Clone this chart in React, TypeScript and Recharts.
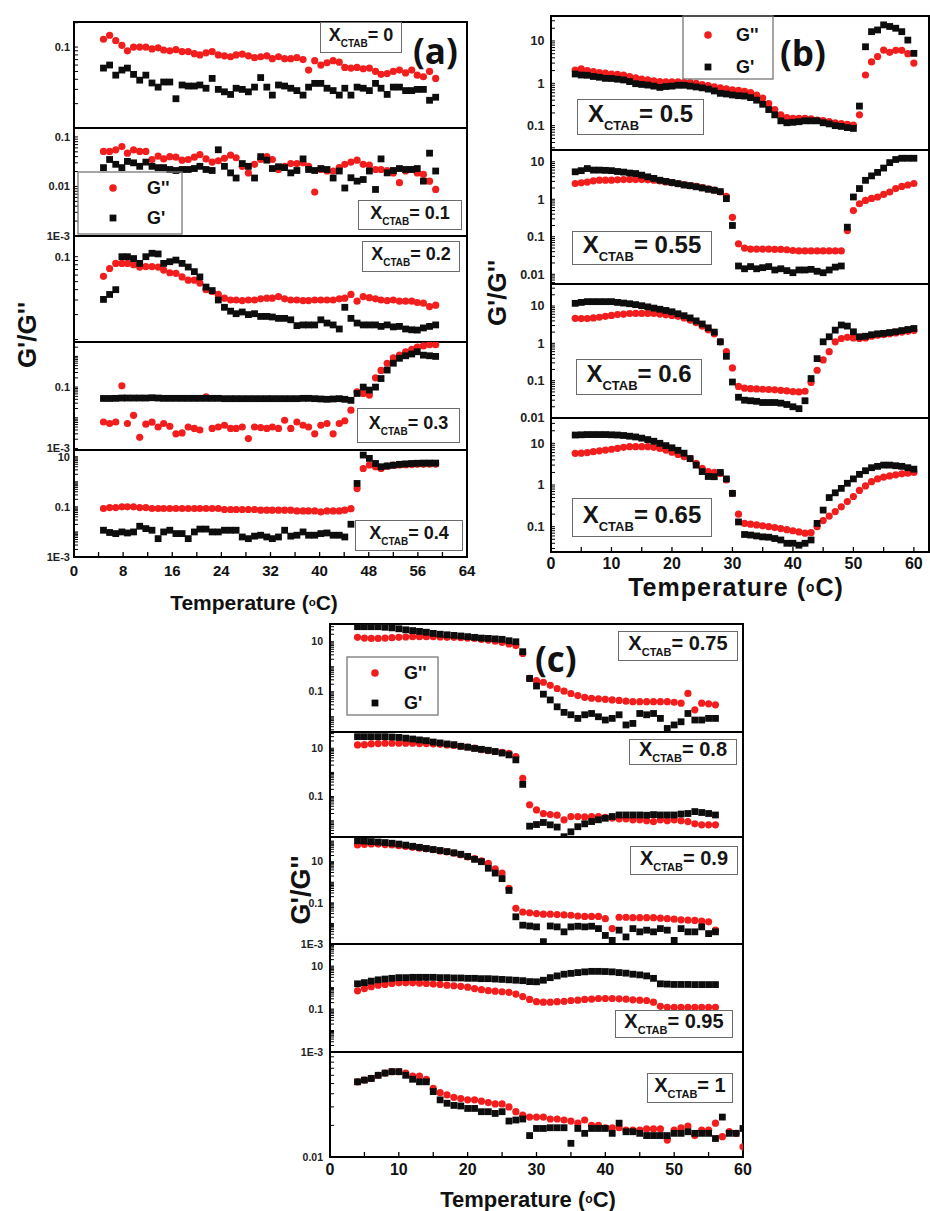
import React from 'react';
import { ScatterChart, Scatter, XAxis, YAxis, ReferenceArea } from 'recharts';

const FONT = '"Liberation Sans", Arial, Helvetica, sans-serif';
const RED = '#f21d1d';
const BLACK = '#0d0d0d';

// ---------- temperatures (°C) at which points were read ----------
const tempA = [4.8,5.8,6.8,7.8,8.7,9.7,10.7,11.7,12.7,13.7,14.6,15.6,16.6,17.6,18.6,19.6,20.5,21.5,22.5,23.5,24.5,25.5,26.4,27.4,28.4,29.4,30.4,31.4,32.3,33.3,34.3,35.3,36.3,37.3,38.2,39.2,40.2,41.2,42.2,43.2,44.1,45.1,46.1,47.1,48.1,49.1,50.0,51.0,52.0,53.0,54.0,55.0,55.9,56.9,57.9,58.9];
const tempB = [4,5,6,7,8,9,10,11,12,13,14,15,16,17,18,19,20,21,22,23,24,25,26,27,28,29,30,31,32,33,34,35,36,37,38,39,40,41,42,43,44,45,46,47,48,49,50,51,52,53,54,55,56,57,58,59,60];
const tempC = [4,5,6,7,8,9,10,11,12,13,14,15,16,17,18,19,20,21,22,23,24,25,26,27,28,29,30,31,32,33,34,35,36,37,38,39,40,41,42,43,44,45,46,47,48,49,50,51,52,53,54,55,56,57,58,59,60];

// ---------- (a) ----------
const lossX0 = [0.125,0.14,0.12,0.105,0.09,0.1,0.1,0.1,0.095,0.098,0.092,0.09,0.093,0.088,0.088,0.083,0.08,0.085,0.088,0.08,0.078,0.076,0.08,0.082,0.078,0.074,0.076,0.078,0.072,0.076,0.072,0.072,0.074,0.07,0.052,0.068,0.06,0.064,0.068,0.065,0.056,0.055,0.056,0.054,0.055,0.05,0.046,0.047,0.05,0.052,0.048,0.052,0.045,0.043,0.05,0.041];
const storX0 = [0.055,0.06,0.045,0.052,0.055,0.046,0.039,0.045,0.036,0.032,0.037,0.037,0.023,0.034,0.033,0.033,0.034,0.031,0.041,0.03,0.028,0.026,0.031,0.03,0.028,0.032,0.042,0.032,0.0255,0.034,0.033,0.031,0.029,0.0255,0.032,0.0356,0.0356,0.031,0.029,0.0255,0.031,0.0255,0.032,0.031,0.029,0.0356,0.031,0.026,0.032,0.032,0.029,0.029,0.03,0.03,0.022,0.024];
const lossX01 = [0.051,0.051,0.055,0.064,0.047,0.055,0.051,0.051,0.035,0.041,0.036,0.04,0.039,0.034,0.035,0.039,0.044,0.036,0.031,0.033,0.037,0.043,0.038,0.0255,0.0188,0.028,0.035,0.04,0.035,0.022,0.0255,0.029,0.029,0.03,0.0255,0.0077,0.022,0.0205,0.0205,0.024,0.028,0.031,0.034,0.028,0.027,0.022,0.022,0.021,0.0188,0.0119,0.0205,0.022,0.0188,0.0175,0.0128,0.0087];
const storX01 = [0.024,0.035,0.028,0.024,0.032,0.03,0.0255,0.031,0.0255,0.024,0.024,0.022,0.021,0.022,0.022,0.023,0.0255,0.022,0.021,0.055,0.0255,0.0188,0.0148,0.029,0.0255,0.0148,0.04,0.034,0.023,0.025,0.024,0.0188,0.021,0.036,0.022,0.021,0.023,0.022,0.0148,0.0205,0.0093,0.015,0.0128,0.0138,0.0205,0.0087,0.036,0.0188,0.021,0.023,0.022,0.022,0.023,0.0128,0.047,0.0205];
const lossX02 = [0.058,0.072,0.083,0.083,0.083,0.08,0.075,0.076,0.076,0.075,0.069,0.064,0.063,0.057,0.052,0.052,0.048,0.04,0.038,0.035,0.0316,0.03,0.03,0.0295,0.03,0.03,0.031,0.0316,0.0316,0.033,0.031,0.03,0.03,0.0295,0.0295,0.03,0.03,0.03,0.03,0.031,0.0316,0.035,0.029,0.033,0.032,0.031,0.03,0.0295,0.03,0.029,0.029,0.029,0.028,0.0275,0.025,0.026];
const storX02 = [0.0305,0.035,0.04,0.1,0.1,0.095,0.083,0.1,0.11,0.108,0.083,0.087,0.091,0.083,0.075,0.066,0.057,0.043,0.039,0.03,0.0245,0.022,0.0205,0.0215,0.02,0.0205,0.019,0.019,0.0187,0.018,0.018,0.0173,0.0147,0.015,0.015,0.015,0.0173,0.0158,0.015,0.0134,0.0245,0.018,0.0158,0.015,0.015,0.015,0.0144,0.015,0.0142,0.0144,0.0134,0.0131,0.013,0.0138,0.0144,0.015];
const lossX03 = [0.0073,0.0065,0.0073,0.11,0.0065,0.012,0.0023,0.0062,0.0072,0.005,0.0065,0.0053,0.003,0.0032,0.005,0.0045,0.004,0.048,0.0045,0.005,0.0057,0.0045,0.0045,0.005,0.0021,0.005,0.0048,0.0045,0.005,0.0045,0.0083,0.0045,0.0073,0.0057,0.005,0.003,0.0057,0.0065,0.003,0.0065,0.008,0.0177,0.07,0.062,0.055,0.2,0.35,0.6,0.9,1.1,1.4,1.7,2.0,2.2,2.4,2.4];
const storX03 = [0.0426,0.0426,0.043,0.044,0.044,0.044,0.044,0.044,0.045,0.044,0.043,0.043,0.043,0.043,0.043,0.043,0.043,0.043,0.043,0.043,0.042,0.042,0.042,0.042,0.042,0.042,0.042,0.042,0.042,0.042,0.042,0.042,0.042,0.043,0.043,0.042,0.041,0.04,0.041,0.042,0.04,0.037,0.062,0.1,0.08,0.1,0.19,0.36,0.6,0.87,1.05,1.2,1.42,1.1,1.05,1.0];
const lossX04 = [0.086,0.094,0.094,0.1,0.1,0.1,0.094,0.094,0.086,0.086,0.086,0.086,0.086,0.086,0.086,0.086,0.086,0.086,0.086,0.086,0.0785,0.0785,0.0785,0.0785,0.0785,0.0785,0.074,0.074,0.074,0.074,0.074,0.074,0.069,0.069,0.069,0.069,0.063,0.069,0.069,0.069,0.074,0.085,0.54,3.4,4.7,4.0,3.4,4.2,4.6,4.7,4.8,4.9,5.0,5.0,5.1,5.1];
const storX04 = [0.0117,0.0095,0.0086,0.01,0.0091,0.01,0.0169,0.0136,0.0117,0.0054,0.01,0.0117,0.0086,0.0086,0.0054,0.01,0.013,0.013,0.01,0.01,0.0117,0.0117,0.0117,0.0063,0.0054,0.0068,0.0074,0.0063,0.0054,0.0063,0.0117,0.0068,0.0074,0.01,0.0074,0.0074,0.0086,0.0091,0.0074,0.0074,0.0063,0.0203,0.86,11.7,8.6,5.4,4.0,4.3,4.6,5.0,5.2,5.4,5.5,5.6,5.6,5.6];

// ---------- (b) ----------
const lossX05 = [2.06,2.2,2.0,1.88,1.8,1.75,1.66,1.62,1.57,1.45,1.35,1.25,1.2,1.15,1.1,1.09,1.09,1.08,1.06,1.04,1.0,0.93,0.88,0.83,0.78,0.74,0.7,0.68,0.65,0.6,0.53,0.45,0.33,0.24,0.18,0.155,0.149,0.149,0.149,0.145,0.136,0.132,0.125,0.117,0.112,0.107,0.103,0.18,1.57,3.2,4.3,6.1,5.4,6.0,6.0,5.0,3.0];
const storX05 = [1.66,1.57,1.55,1.45,1.39,1.31,1.3,1.25,1.2,1.1,0.98,0.94,0.91,0.86,0.8,0.84,0.86,0.9,0.9,0.86,0.82,0.78,0.73,0.66,0.58,0.56,0.53,0.51,0.5,0.46,0.4,0.32,0.24,0.18,0.13,0.117,0.12,0.124,0.13,0.13,0.13,0.117,0.11,0.1,0.096,0.09,0.086,0.29,7.3,16.6,18.2,24,22,20,16.6,10.5,5.1];
const lossX055 = [2.63,2.75,2.88,3.1,3.22,3.22,3.22,3.3,3.36,3.36,3.36,3.36,3.3,3.22,3.1,2.9,2.75,2.6,2.45,2.3,2.2,2.05,1.9,1.75,1.56,1.2,0.33,0.065,0.05,0.047,0.047,0.047,0.047,0.046,0.046,0.045,0.043,0.042,0.042,0.042,0.042,0.042,0.042,0.042,0.042,0.146,0.5,0.76,0.93,1.05,1.15,1.35,1.56,1.93,2.2,2.4,2.63];
const storX055 = [5.4,5.8,6.6,6.0,6.0,5.9,5.8,5.5,5.3,5.0,4.85,4.4,3.96,3.6,3.22,3.0,2.8,2.6,2.4,2.3,2.15,2.0,1.85,1.74,1.6,1.04,0.2,0.0166,0.014,0.016,0.014,0.015,0.016,0.013,0.014,0.0125,0.011,0.013,0.013,0.0135,0.012,0.011,0.013,0.0155,0.0166,0.18,1.15,1.93,3.2,4.2,5.2,6.8,9.5,11.5,12.4,12.4,12.4];
const lossX06 = [4.67,4.6,4.6,4.8,5.0,5.3,5.6,5.9,6.1,6.3,6.35,6.35,6.35,6.3,6.1,5.8,5.6,5.3,4.8,4.2,3.6,2.9,2.3,1.8,1.1,0.6,0.22,0.07,0.063,0.061,0.06,0.059,0.058,0.057,0.055,0.053,0.051,0.05,0.052,0.09,0.19,0.36,0.6,1.1,1.35,1.45,1.4,1.35,1.4,1.55,1.66,1.72,1.8,1.9,2.0,2.1,2.2];
const storX06 = [11.8,12.5,13.1,13.1,13.1,13.1,13.1,12.5,12.0,11.5,10.9,10.2,9.5,8.8,8.2,7.6,7.0,6.2,5.5,4.8,4.0,3.3,2.6,2.0,1.1,0.45,0.092,0.036,0.03,0.029,0.028,0.026,0.026,0.026,0.025,0.023,0.02,0.0178,0.029,0.114,0.39,1.1,1.5,2.26,3.1,2.9,2.04,1.5,1.55,1.7,1.8,1.85,1.95,2.05,2.2,2.35,2.5];
const lossX065 = [5.75,5.8,6.0,6.3,6.6,6.9,7.2,7.6,8.0,8.3,8.3,8.3,8.3,8.0,7.5,6.9,6.1,5.4,4.8,4.3,3.3,2.5,2.1,2.0,1.9,1.32,0.63,0.2,0.12,0.115,0.11,0.105,0.1,0.095,0.09,0.085,0.08,0.075,0.07,0.072,0.1,0.14,0.18,0.23,0.3,0.4,0.53,0.74,0.95,1.2,1.4,1.55,1.65,1.75,1.85,1.92,2.0];
const storX065 = [15.8,16,16.2,16.2,16.2,16.2,16,15.8,15.4,14.8,14.2,13.3,12.3,11.2,10,8.8,7.8,6.8,5.8,4.3,3.0,2.1,1.6,1.58,2.0,1.4,0.63,0.13,0.065,0.063,0.06,0.057,0.056,0.052,0.048,0.04,0.04,0.036,0.04,0.048,0.12,0.25,0.5,0.65,0.83,1.1,1.4,1.8,2.2,2.6,2.8,3.0,3.0,2.9,2.8,2.6,2.4];

// ---------- (c) ----------
const lossX075 = [15,14,13.6,13.6,14,14.5,15,15.5,15.9,15.9,15.9,15.9,15.5,15,15,14.5,14,13.6,12.5,11.7,10.5,9.5,8.2,7,3.4,0.34,0.28,0.24,0.18,0.135,0.105,0.085,0.07,0.06,0.055,0.052,0.05,0.047,0.045,0.042,0.04,0.04,0.04,0.04,0.04,0.04,0.038,0.035,0.086,0.019,0.035,0.033,0.03];
const storX075 = [40,40,40,40,38,36,33,30,28,26,24,21.6,20,19,18,17,16,15,14,13.6,13,12.5,11,10,4.0,0.34,0.17,0.08,0.047,0.025,0.015,0.012,0.0086,0.012,0.0135,0.01,0.0074,0.0086,0.012,0.0047,0.0054,0.0135,0.012,0.0135,0.0086,0.0034,0.0047,0.0063,0.0135,0.0074,0.0074,0.0086,0.0086];
const lossX08 = [13.7,14,15,15.5,16,16,16,16,16,15.5,15.5,15,14.5,13.7,13,12,11.2,10,8.8,8,7.3,6.8,6.2,4.5,0.57,0.046,0.028,0.02,0.018,0.017,0.011,0.015,0.015,0.0145,0.015,0.015,0.014,0.013,0.012,0.012,0.011,0.011,0.01,0.0093,0.011,0.01,0.011,0.01,0.0093,0.0075,0.0068,0.0068,0.0068];
const storX08 = [30,30,30,30,30,29,28,26,24,22,20.5,18,16.5,15,14,12,11,9.8,9.0,8.2,7.3,6.3,5.3,3.3,0.32,0.006,0.007,0.0085,0.0068,0.0055,0.0022,0.0035,0.0057,0.0075,0.0093,0.011,0.0127,0.015,0.0174,0.0174,0.0174,0.0174,0.017,0.018,0.0174,0.0174,0.0174,0.019,0.02,0.024,0.022,0.02,0.0174];
const lossX09 = [65,70,73,72,68,65,60,55,50,45,42,38,33,30,26,22,17,14,11,8.3,4.5,2.8,0.5,0.054,0.036,0.033,0.03,0.028,0.028,0.027,0.026,0.025,0.023,0.022,0.022,0.022,0.017,0.0056,0.02,0.02,0.019,0.019,0.019,0.019,0.018,0.017,0.016,0.015,0.0144,0.014,0.013,0.012,0.0047];
const storX09 = [105,100,95,90,85,79,72,64,56,50,44,39,35,31,27,23,18,13,10,4.8,2.8,1.5,0.4,0.021,0.0082,0.0075,0.0068,0.0013,0.0075,0.0068,0.0039,0.0068,0.0073,0.0068,0.0073,0.0056,0.0026,0.0015,0.0047,0.0022,0.0056,0.0039,0.0047,0.0039,0.0056,0.0047,0.0015,0.0056,0.0039,0.0039,0.0068,0.0032,0.0039];
const lossX095 = [0.71,0.9,1.1,1.3,1.4,1.55,1.66,1.66,1.66,1.6,1.55,1.45,1.4,1.3,1.22,1.15,1.05,0.9,0.8,0.72,0.68,0.64,0.6,0.5,0.38,0.28,0.22,0.21,0.21,0.22,0.23,0.25,0.26,0.28,0.29,0.31,0.31,0.31,0.3,0.29,0.27,0.26,0.25,0.21,0.134,0.12,0.12,0.12,0.12,0.12,0.12,0.12,0.12];
const storX095 = [1.5,1.7,2.0,2.3,2.5,2.7,2.9,2.9,3.0,3.0,3.0,3.0,2.9,2.9,2.8,2.8,2.7,2.7,2.6,2.6,2.5,2.4,2.3,2.2,2.1,1.9,1.86,2.2,2.9,3.5,4.2,4.6,5.0,5.4,5.7,5.7,5.6,5.4,5.0,4.7,4.2,3.9,3.5,2.7,1.5,1.45,1.4,1.4,1.4,1.38,1.38,1.38,1.38];
const lossX1 = [0.052,0.054,0.056,0.06,0.063,0.065,0.065,0.063,0.059,0.059,0.055,0.045,0.041,0.039,0.037,0.036,0.035,0.035,0.034,0.033,0.032,0.032,0.03,0.027,0.025,0.024,0.024,0.024,0.023,0.023,0.0225,0.022,0.021,0.0225,0.02,0.02,0.019,0.019,0.019,0.018,0.018,0.018,0.0185,0.0185,0.0185,0.0145,0.018,0.019,0.0197,0.016,0.018,0.018,0.021,0.0156,0.0175,0.0168,0.0125];
const storX1 = [0.052,0.054,0.056,0.06,0.063,0.065,0.065,0.06,0.055,0.052,0.052,0.042,0.035,0.0325,0.031,0.0306,0.029,0.029,0.027,0.027,0.026,0.027,0.022,0.0225,0.023,0.016,0.0187,0.0187,0.019,0.019,0.019,0.0135,0.0187,0.0168,0.0187,0.0187,0.0187,0.0168,0.021,0.0174,0.0174,0.0168,0.016,0.016,0.016,0.016,0.0168,0.0168,0.0174,0.0168,0.0168,0.0168,0.015,0.024,0.0168,0.0168,0.0187];

// ---------- tick labels ----------
const xLabelsA = [0, 8, 16, 24, 32, 40, 48, 56, 64];
const xMinorA = [4, 12, 20, 28, 36, 44, 52, 60];
const xLabelsBC = [0, 10, 20, 30, 40, 50, 60];
const xMinorBC = [5, 15, 25, 35, 45, 55];
const xctab = ['0', '0.1', '0.2', '0.3', '0.4', '0.5', '0.55', '0.6', '0.65', '0.75', '0.8', '0.9', '0.95', '1'];

const fmtY = (v: number) => (Math.abs(v - 0.001) < 1e-12 ? '1E-3' : String(v));

function logTicks(e0: number, e1: number) {
  const out: number[] = [];
  for (let d = Math.floor(e0); d <= Math.ceil(e1); d++) {
    for (let m = 1; m <= 9; m++) {
      const v = m * Math.pow(10, d);
      const lv = Math.log10(v);
      if (lv >= e0 - 1e-9 && lv <= e1 + 1e-9) out.push(v);
    }
  }
  return out;
}

const Dot = (p: any) => (p.cx == null ? <g /> : <circle cx={p.cx} cy={p.cy} r={3.6} fill={RED} />);
const Sq = (p: any) => (p.cx == null ? <g /> : <rect x={p.cx - 3.4} y={p.cy - 3.4} width={6.8} height={6.8} fill={BLACK} />);

type Cfg = {
  L: number; T: number; W: number; H: number; xMax: number;
  e: [number, number]; yLabels: number[]; temps: number[];
  loss: number[]; stor: number[]; showX?: boolean;
  xLabels: number[]; xMinor: number[]; yFs: number; yM: number; xFs: number; xM: number;
};

const A = { L: 74, W: 393, xMax: 64, xLabels: xLabelsA, xMinor: xMinorA, yFs: 11, yM: 8, xFs: 15, xM: 13, temps: tempA };
const B = { L: 551, W: 378, xMax: 62.5, xLabels: xLabelsBC, xMinor: xMinorBC, yFs: 12.5, yM: 10.5, xFs: 16, xM: 11, temps: tempB };
const C = { L: 330, W: 413, xMax: 60, xLabels: xLabelsBC, xMinor: xMinorBC, yFs: 10.5, yM: 11, xFs: 16, xM: 12, temps: tempC };

const panels: Cfg[] = [
  { ...A, T: 22, H: 106, e: [-2, -0.69], yLabels: [0.1], loss: lossX0, stor: storX0 },
  { ...A, T: 128, H: 108, e: [-3, -0.82], yLabels: [0.1, 0.01, 0.001], loss: lossX01, stor: storX01 },
  { ...A, T: 236, H: 106, e: [-2.03, -0.75], yLabels: [0.1], loss: lossX02, stor: storX02 },
  { ...A, T: 342, H: 108, e: [-3.05, 0.47], yLabels: [0.1, 0.001], loss: lossX03, stor: storX03 },
  { ...A, T: 450, H: 107, e: [-3, 1.27], yLabels: [10, 0.1, 0.001], loss: lossX04, stor: storX04, showX: true },
  { ...B, T: 16, H: 134, e: [-1.575, 1.59], yLabels: [10, 1, 0.1], loss: lossX05, stor: storX05 },
  { ...B, T: 150, H: 134, e: [-2.26, 1.314], yLabels: [10, 1, 0.1, 0.01], loss: lossX055, stor: storX055 },
  { ...B, T: 284, H: 134, e: [-2, 1.59], yLabels: [10, 1, 0.1, 0.01], loss: lossX06, stor: storX06 },
  { ...B, T: 418, H: 134, e: [-1.607, 1.607], yLabels: [10, 1, 0.1], loss: lossX065, stor: storX065, showX: true },
  { ...C, T: 624, H: 108, e: [-2.61, 1.71], yLabels: [10, 0.1], loss: lossX075, stor: storX075 },
  { ...C, T: 732, H: 105, e: [-2.67, 1.67], yLabels: [10, 0.1], loss: lossX08, stor: storX08 },
  { ...C, T: 837, H: 107, e: [-3, 2.2], yLabels: [10, 0.1, 0.001], loss: lossX09, stor: storX09 },
  { ...C, T: 944, H: 108, e: [-3, 2.03], yLabels: [10, 0.1, 0.001], loss: lossX095, stor: storX095 },
  { ...C, T: 1052, H: 105, e: [-2, -1], yLabels: [0.01], loss: lossX1, stor: storX1, showX: true },
];

// label boxes: [x, y, w, h, mainFont, subFont]
const boxes: [number, number, number, number, number, number][] = [
  [320, 22, 82, 31, 18, 10], [358, 200, 104, 30, 18, 10], [362, 241, 98, 31, 18, 10], [357, 408, 103, 35, 18, 10], [355, 520, 108, 31, 18, 10],
  [577, 99, 127, 36, 24, 13], [572, 231, 140, 34, 24, 13], [576, 359, 126, 36, 24, 13], [572, 498, 140, 39, 24, 13],
  [618, 631, 120, 30, 20, 11], [629, 739, 108, 26, 20, 11], [630, 846, 108, 29, 20, 11], [615, 1010, 118, 28, 20, 11], [647, 1073, 86, 30, 20, 11],
];

function Panel({ p }: { p: Cfg }) {
  const padL = 50, mt = 10, mr = 14;
  const mb = p.showX ? 0 : 10;
  const xh = p.showX ? 40 : 0;
  const w = padL + p.W + mr;
  const h = mt + p.H + (p.showX ? xh : mb);
  const lo = Math.pow(10, p.e[0]);
  const hi = Math.pow(10, p.e[1]);
  const yt = logTicks(p.e[0], p.e[1]);
  const xt = [...p.xLabels, ...p.xMinor].sort((a, b) => a - b);
  const lossData = p.temps.map((t, i) => ({ x: t, y: p.loss[i] })).filter((d) => d.y != null);
  const storData = p.temps.map((t, i) => ({ x: t, y: p.stor[i] })).filter((d) => d.y != null);
  const yFmt = (v: number) => {
    const hit = p.yLabels.find((l) => Math.abs(l - v) / l < 1e-6);
    return hit != null ? fmtY(hit) : '';
  };
  const xFmt = (v: number) => (p.xLabels.includes(v) ? String(v) : '');
  return (
    <div style={{ position: 'absolute', left: p.L - padL, top: p.T - mt, width: w, height: h }}>
      <ScatterChart width={w} height={h} margin={{ top: mt, right: mr, bottom: mb, left: 0 }}>
        <XAxis
          type="number" dataKey="x" domain={[0, p.xMax]} allowDataOverflow ticks={xt} interval={0}
          hide={!p.showX} height={xh} tickFormatter={xFmt}
          tick={{ fontSize: p.xFs, fontWeight: 700, fill: '#111', fontFamily: FONT }}
          tickSize={-5} tickMargin={p.xM}
          axisLine={{ stroke: '#000', strokeWidth: 2 }} tickLine={{ stroke: '#000', strokeWidth: 1.3 }}
        />
        <YAxis
          type="number" dataKey="y" scale="log" domain={[lo, hi]} allowDataOverflow ticks={yt} interval={0}
          width={padL} tickFormatter={yFmt}
          tick={{ fontSize: p.yFs, fontWeight: 700, fill: '#222', fontFamily: FONT }}
          tickSize={-4} tickMargin={p.yM}
          axisLine={{ stroke: '#000', strokeWidth: 2 }} tickLine={{ stroke: '#000', strokeWidth: 1 }}
        />
        <ReferenceArea x1={0} x2={p.xMax} y1={lo} y2={hi} fill="none" fillOpacity={0} stroke="#000" strokeWidth={2} ifOverflow="visible" />
        <Scatter data={lossData} shape={Dot} isAnimationActive={false} />
        <Scatter data={storData} shape={Sq} isAnimationActive={false} />
      </ScatterChart>
    </div>
  );
}

function Legend({ x, y, w, h, rx, ry1, ry2, tx }: { x: number; y: number; w: number; h: number; rx: number; ry1: number; ry2: number; tx: number }) {
  return (
    <g>
      <rect x={x} y={y} width={w} height={h} fill="none" stroke="#777" strokeWidth={1.3} />
      <circle cx={rx} cy={ry1} r={3.8} fill={RED} />
      <rect x={rx - 3.4} y={ry2 - 3.4} width={6.8} height={6.8} fill={BLACK} />
      <text x={tx} y={ry1} dominantBaseline="central" fontSize={18} fontWeight={700} fill="#111">G''</text>
      <text x={tx} y={ry2} dominantBaseline="central" fontSize={18} fontWeight={700} fill="#111">G'</text>
    </g>
  );
}

function TempTitle({ x, y, fs, ls }: { x: number; y: number; fs: number; ls?: number }) {
  return (
    <text x={x} y={y} textAnchor="middle" dominantBaseline="central" fontSize={fs} fontWeight={700} fill="#111" letterSpacing={ls || 0}>
      Temperature (<tspan fontSize={fs * 0.55}>o</tspan>C)
    </text>
  );
}

function YTitle({ x, y, fs }: { x: number; y: number; fs: number }) {
  return (
    <text x={x} y={y} transform={`rotate(-90 ${x} ${y})`} textAnchor="middle" dominantBaseline="central" fontSize={fs} fontWeight={700} fill="#111">
      G'/G''
    </text>
  );
}

export default function App() {
  return (
    <div style={{ position: 'absolute', left: 0, top: 0, width: 930, height: 1211, background: '#fff', overflow: 'hidden', fontFamily: FONT }}>
      {panels.map((p, i) => (
        <Panel key={i} p={p} />
      ))}
      <svg width={930} height={1211} style={{ position: 'absolute', left: 0, top: 0, pointerEvents: 'none' }} fontFamily={FONT}>
        <YTitle x={27} y={335} fs={26} />
        <YTitle x={497} y={293} fs={26} />
        <YTitle x={301} y={890} fs={27} />
        <TempTitle x={254} y={602} fs={21} />
        <TempTitle x={736} y={587} fs={25} ls={1} />
        <TempTitle x={528} y={1199} fs={22} />
        <text x={413} y={64} fontSize={35} fontWeight={700} fill="#111" fontFamily='"Open Sans", sans-serif'>(a)</text>
        <text x={780} y={66} fontSize={35} fontWeight={700} fill="#111" fontFamily='"Open Sans", sans-serif'>(b)</text>
        <text x={535} y={672} fontSize={35} fontWeight={700} fill="#111" fontFamily='"Open Sans", sans-serif'>(c)</text>
        <Legend x={78} y={172} w={104} h={62} rx={113} ry1={188} ry2={218} tx={147} />
        <Legend x={683} y={16} w={90} h={63} rx={708} ry1={35} ry2={67} tx={736} />
        <Legend x={347} y={657} w={91} h={58} rx={375} ry1={673} ry2={703} tx={404} />
      </svg>
      {boxes.map((b, i) => (
        <div
          key={i}
          style={{
            position: 'absolute', left: b[0], top: b[1], width: b[2], height: b[3], boxSizing: 'border-box',
            border: '1.5px solid #6b6b6b', background: '#fff', display: 'flex', alignItems: 'center', justifyContent: 'center',
            fontFamily: FONT, fontWeight: 700, fontSize: b[4], color: '#151515', lineHeight: 1, whiteSpace: 'nowrap',
          }}
        >
          <span>
            X<span style={{ fontSize: b[5], verticalAlign: -b[4] * 0.32 }}>CTAB</span>= {xctab[i]}
          </span>
        </div>
      ))}
    </div>
  );
}
